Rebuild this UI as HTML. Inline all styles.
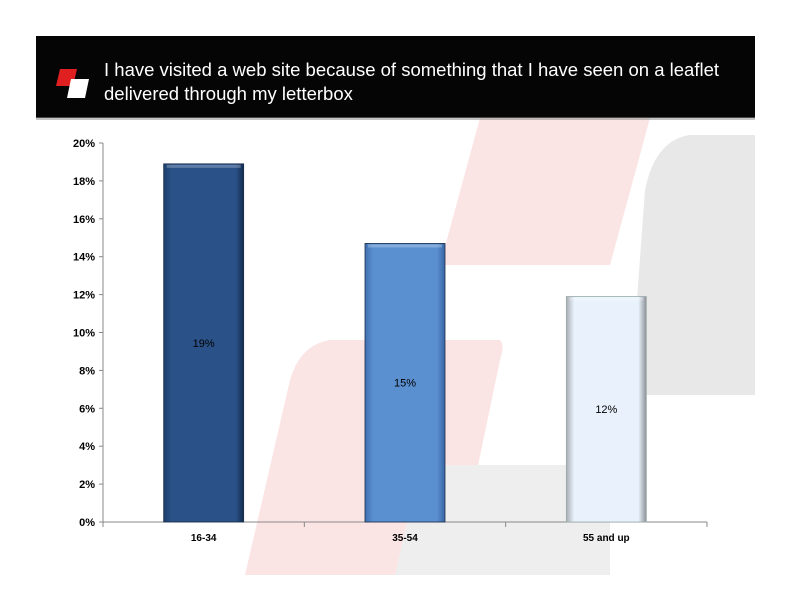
<!DOCTYPE html>
<html><head><meta charset="utf-8"><style>
html,body{margin:0;padding:0;background:#fff}
body{width:792px;height:612px;position:relative;overflow:hidden;font-family:"Liberation Sans",sans-serif}
</style></head><body>
<svg width="792" height="612" style="position:absolute;left:0;top:0">
  <g>
    <path d="M480 118 L650 118 L610 265 L440 265 Z" fill="#fbe4e4"/>
    <path d="M330 340 L500 340 Q505 345 500 360 L475 480 L455 575 L245 575 L290 380 Q300 345 330 340 Z" fill="#fbe4e4"/>
    <path d="M690 135 L755 135 L755 395 L630 395 L645 190 Q655 140 690 135 Z" fill="#e9e8e9"/>
    <path d="M420 465 L610 465 L610 575 L395 575 Z" fill="#efeeef"/>
  </g>
  <rect x="36" y="36" width="719" height="82" fill="#050505"/>
  <rect x="36" y="117" width="719" height="3" fill="#888" opacity="0.5"/>
  <g>
    <path d="M60 69 L77 69 L73 86 L56 86 Z" fill="#e02020"/>
    <path d="M71 79 L89 79 L85 98 L67 98 Z" fill="#fff"/>
  </g>
  <text x="104" y="76" fill="#fff" font-size="18.5" textLength="615" lengthAdjust="spacingAndGlyphs">I have visited a web site because of something that I have seen on a leaflet</text>
  <text x="104" y="100" fill="#fff" font-size="18.5">delivered through my letterbox</text>
  <defs>
    <linearGradient id="g0" x1="0" x2="1"><stop offset="0" stop-color="#1b3d6a"/><stop offset="0.1" stop-color="#2a5288"/><stop offset="0.9" stop-color="#2a5288"/><stop offset="1" stop-color="#132c50"/></linearGradient>
    <linearGradient id="g1" x1="0" x2="1"><stop offset="0" stop-color="#3f70b0"/><stop offset="0.1" stop-color="#5a8fd0"/><stop offset="0.9" stop-color="#5a8fd0"/><stop offset="1" stop-color="#3a66a4"/></linearGradient>
    <linearGradient id="g2" x1="0" x2="1"><stop offset="0" stop-color="#a9adb3"/><stop offset="0.1" stop-color="#e9f2fc"/><stop offset="0.9" stop-color="#e9f2fc"/><stop offset="1" stop-color="#8d9197"/></linearGradient>
  </defs>
  <g id="chart"></g>
</svg>
<script>
const categories = ["16-34","35-54","55 and up"];
const values = [18.9, 14.7, 11.9];
const valueLabels = ["19%","15%","12%"];
const yTicks = [0,2,4,6,8,10,12,14,16,18,20];
const NS="http://www.w3.org/2000/svg";
const g=document.getElementById('chart');
const x0=103,x1=707,yTop=143,yBot=522,yMax=20;
const y=v=>yBot-(v/yMax)*(yBot-yTop);
const band=(x1-x0)/categories.length;
const xc=i=>x0+band*(i+0.5);
function el(t,a){const e=document.createElementNS(NS,t);for(const k in a)e.setAttribute(k,a[k]);g.appendChild(e);return e;}
let ax=el('line',{x1:x0,y1:yTop,x2:x0,y2:yBot,stroke:'#888'});


let bx=el('line',{x1:x0,y1:yBot,x2:x1,y2:yBot,stroke:'#888'});


el('line',{x1:x1,y1:yBot,x2:x1,y2:yBot+5,stroke:'#888'});
yTicks.forEach(t=>{
  el('line',{x1:x0-4,y1:y(t),x2:x0,y2:y(t),stroke:'#888'});
  const tx=el('text',{x:x0-8,y:y(t)+4,'text-anchor':'end','font-size':11,'font-weight':'bold',fill:'#000'});
  tx.textContent=t+'%';
  
  
});
categories.forEach((c,i)=>{
  el('line',{x1:x0+band*i,y1:yBot,x2:x0+band*i,y2:yBot+5,stroke:'#888'});
  const w=80,xl=xc(i)-w/2,yt=y(values[i]);
  const r=el('rect',{x:xl,y:yt,width:w,height:yBot-yt,fill:'url(#g'+i+')',stroke:i==2?'#9aa':'#1a2e4a','stroke-width':0.8});
  
  
  el('rect',{x:xl+3,y:yt+1,width:w-6,height:3,fill:'#fff',opacity:0.25});
  const vl=el('text',{x:xc(i),y:(yt+yBot)/2+4,'text-anchor':'middle','font-size':11,fill:'#000'});
  vl.textContent=valueLabels[i];
  
  
  const cl=el('text',{x:xc(i),y:yBot+19,'text-anchor':'middle','font-size':10,'font-weight':'bold',fill:'#000'});
  cl.textContent=c;
  
  
});
</script>
</body></html>
